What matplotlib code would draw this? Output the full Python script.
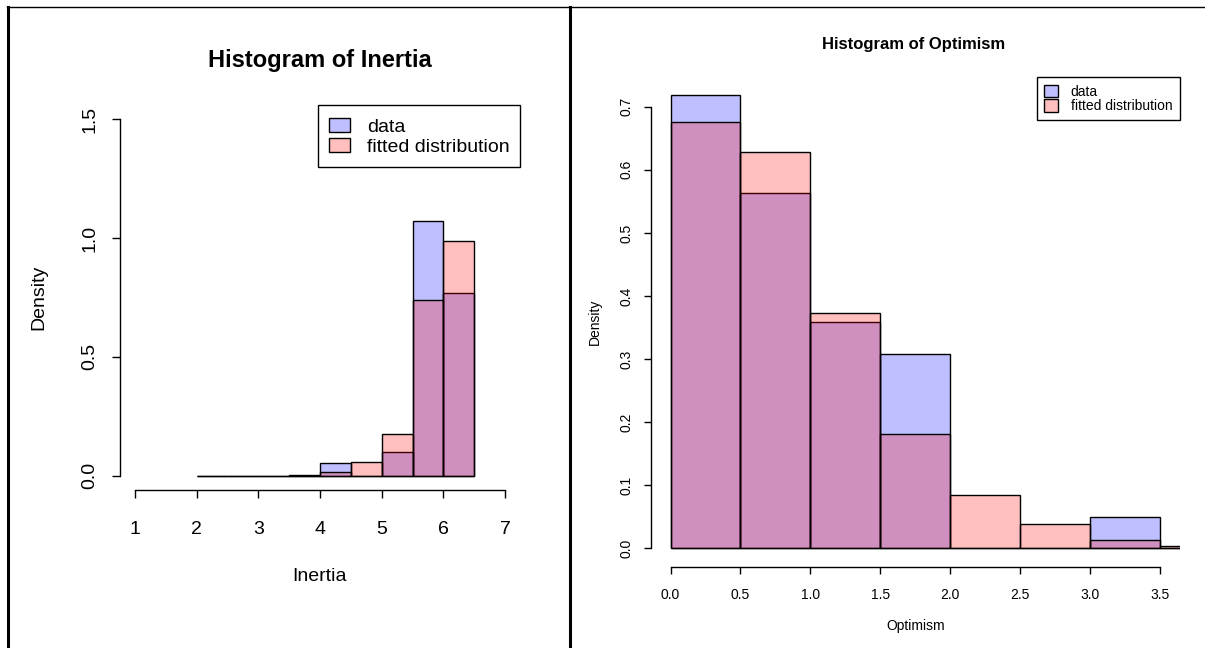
import matplotlib
matplotlib.use("Agg")
import matplotlib.pyplot as plt
from matplotlib.patches import Patch, Rectangle
from matplotlib.lines import Line2D
from matplotlib.legend_handler import HandlerPatch

plt.rcParams['font.family'] = ['Liberation Sans', 'DejaVu Sans']

# ---- data ----
inertia_breaks = [2.0, 2.5, 3.0, 3.5, 4.0, 4.5, 5.0, 5.5, 6.0, 6.5]
inertia_data = [0.0, 0.0, 0.0, 0.0, 0.054, 0.0, 0.098, 1.073, 0.767]
inertia_fit = [0.0, 0.0, 0.0, 0.005, 0.017, 0.056, 0.174, 0.738, 0.989]
inertia_xticks = [1, 2, 3, 4, 5, 6, 7]
inertia_yticks = [0.0, 0.5, 1.0, 1.5]

optimism_breaks = [0.0, 0.5, 1.0, 1.5, 2.0, 2.5, 3.0, 3.5, 4.0]
optimism_data = [0.718, 0.564, 0.359, 0.308, 0.0, 0.0, 0.050, 0.0]
optimism_fit = [0.676, 0.628, 0.373, 0.181, 0.084, 0.039, 0.013, 0.004]
optimism_xticks = [0.0, 0.5, 1.0, 1.5, 2.0, 2.5, 3.0, 3.5]
optimism_yticks = [0.0, 0.1, 0.2, 0.3, 0.4, 0.5, 0.6, 0.7]

legend_labels = ["data", "fitted distribution"]

BLUE = (0, 0, 1, 0.25)
RED = (1, 0, 0, 0.25)

W, H = 1205, 648
fig = plt.figure(figsize=(W / 100, H / 100), dpi=100)


def px_axes(x0, y0, x1, y1):
    return fig.add_axes([x0 / W, 1 - y1 / H, (x1 - x0) / W, (y1 - y0) / H])


def small_box_handler(pw, ph):
    # draw a small square key, right aligned in the handle box (R style)
    def make(legend, orig_handle, xdescent, ydescent, width, height, fontsize):
        x = -xdescent + width - pw
        y = -ydescent + (height - ph) / 2
        return Rectangle((x, y), pw, ph)
    return HandlerPatch(patch_func=make)


def draw_hist(ax, breaks, data, fit, xlim, ylim, xticks, yticks, xfmt, yfmt,
              xlabel, fs, tick_len, xpad, ypad, xlab_pad, ylab_pad,
              leg_kw, key_size):
    lefts = breaks[:-1]
    widths = [b - a for a, b in zip(breaks[:-1], breaks[1:])]
    ax.bar(lefts, data, width=widths, align='edge', color=BLUE,
           edgecolor='black', linewidth=1.0)
    ax.bar(lefts, fit, width=widths, align='edge', color=RED,
           edgecolor='black', linewidth=1.0)
    ax.set_xlim(*xlim)
    ax.set_ylim(*ylim)
    for s in ('top', 'right'):
        ax.spines[s].set_visible(False)
    ax.spines['left'].set_bounds(yticks[0], yticks[-1])
    ax.spines['bottom'].set_bounds(xticks[0], xticks[-1])
    for s in ('left', 'bottom'):
        ax.spines[s].set_linewidth(1.0)
    ax.set_xticks(xticks)
    ax.set_xticklabels([xfmt(v) for v in xticks], fontsize=fs)
    ax.set_yticks(yticks)
    ax.set_yticklabels([yfmt(v) for v in yticks], fontsize=fs, rotation=90,
                       va='center')
    ax.tick_params(direction='out', length=tick_len, width=1.0,
                   colors='black')
    ax.tick_params(axis='x', pad=xpad)
    ax.tick_params(axis='y', pad=ypad)
    ax.set_xlabel(xlabel, fontsize=fs, labelpad=xlab_pad)
    ax.set_ylabel("Density", fontsize=fs, labelpad=ylab_pad)
    handles = [Patch(facecolor=BLUE, edgecolor='black', linewidth=1.0),
               Patch(facecolor=RED, edgecolor='black', linewidth=1.0)]
    hm = {h: small_box_handler(*key_size) for h in handles}
    leg = ax.legend(handles, legend_labels, loc='upper right',
                    bbox_to_anchor=(1, 1), borderaxespad=0, fancybox=False,
                    framealpha=1, edgecolor='black', handler_map=hm,
                    **leg_kw)
    leg.get_frame().set_linewidth(1.0)
    return ax


# Left panel: Inertia
axL = px_axes(120, 105, 520, 490)
draw_hist(axL, inertia_breaks, inertia_data, inertia_fit,
          (0.76, 7.24), (-0.06, 1.56), inertia_xticks, inertia_yticks,
          lambda v: f"{v:d}", lambda v: f"{v:.1f}",
          "Inertia", 14, 6, 16, 9.5, 22, 24.5,
          dict(fontsize=14, handlelength=1.1, handleheight=1.12,
               handletextpad=0.85, borderpad=0.55, labelspacing=0.0),
          (15, 10))
fig.text(320 / W, 1 - 66.7 / H, "Histogram of Inertia", ha='center',
         va='baseline', fontsize=17, fontweight='bold')

# Right panel: Optimism
axR = px_axes(651, 77, 1179.5, 566.5)
draw_hist(axR, optimism_breaks, optimism_data, optimism_fit,
          (-0.14, 3.64), (-0.0287, 0.7472), optimism_xticks, optimism_yticks,
          lambda v: f"{v:.1f}", lambda v: f"{v:.1f}",
          "Optimism", 10, 5, 10.5, 7.7, 12.5, 12.5,
          dict(fontsize=10, handlelength=1.0, handleheight=1.12,
               handletextpad=0.9, borderpad=0.52, labelspacing=0.0),
          (10, 9))
fig.text(914 / W, 1 - 49 / H, "Histogram of Optimism", ha='center',
         va='baseline', fontsize=12, fontweight='bold')


# Table cell borders of the screenshot
def fig_line(x0, y0, x1, y1, lw):
    fig.add_artist(Line2D([x0 / W, x1 / W], [1 - y0 / H, 1 - y1 / H],
                          color='black', linewidth=lw,
                          transform=fig.transFigure))


fig_line(7, 7, W, 7, 1.0)
fig_line(8, 7, 8, H, 2.2)
fig_line(570, 7, 570, H, 2.2)

fig.savefig("out.png", dpi=100)
